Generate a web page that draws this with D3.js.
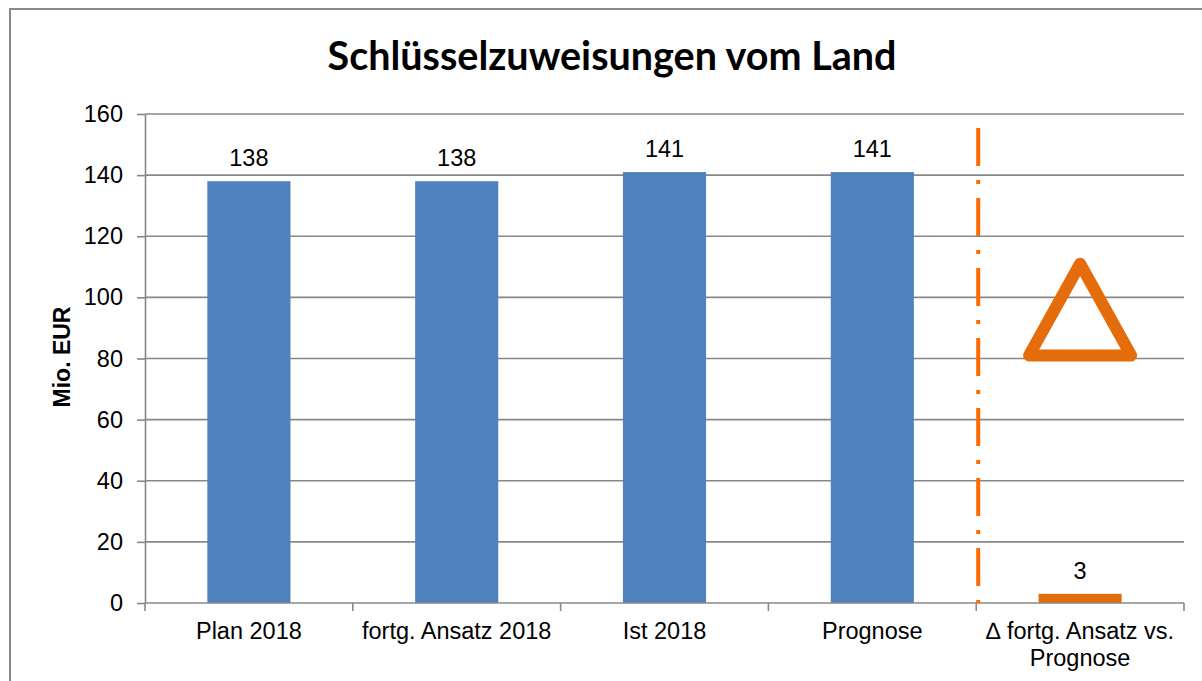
<!DOCTYPE html>
<html><head><meta charset="utf-8">
<script src="https://cdn.jsdelivr.net/npm/d3@7"></script>
<style>body{margin:0;background:#fff}svg{display:block}</style>
</head><body>
<svg id="c" width="1202" height="681"></svg>
<script>
const categories = ["Plan 2018", "fortg. Ansatz 2018", "Ist 2018", "Prognose", "\u2206 fortg. Ansatz vs. Prognose"];
const labelLines = [["Plan 2018"], ["fortg. Ansatz 2018"], ["Ist 2018"], ["Prognose"], ["\u2206 fortg. Ansatz vs.", "Prognose"]];
const values = [138, 138, 141, 141, 3];
const barColors = ["#4F81BD", "#4F81BD", "#4F81BD", "#4F81BD", "#E46C0A"];
const yTicks = [0, 20, 40, 60, 80, 100, 120, 140, 160];
const triangleValues = { apex: 111, base: 81 };

const svg = d3.select("#c");
const m = { left: 145, right: 1184, top: 114, bottom: 603 };
const FONT = "Liberation Sans, Arial, sans-serif";

// outer border
svg.append("rect").attr("x", 10).attr("y", 9).attr("width", 1210).attr("height", 700)
  .attr("fill", "#fff").attr("stroke", "#898989").attr("stroke-width", 2);

const x = d3.scaleBand().domain(categories).range([m.left, m.right]).paddingInner(0.6).paddingOuter(0.3);
const y = d3.scaleLinear().domain([0, 160]).range([m.bottom, m.top]);

// gridlines
svg.append("g").selectAll("line").data(yTicks.filter(d => d > 0)).join("line")
  .attr("x1", m.left).attr("x2", m.right).attr("y1", d => y(d)).attr("y2", d => y(d))
  .attr("stroke", "#888").attr("stroke-width", 1.6);

// y axis
const ya = svg.append("g").attr("transform", `translate(${m.left},0)`)
  .call(d3.axisLeft(y).tickValues(yTicks).tickSize(8).tickSizeOuter(0).tickPadding(14));
ya.select(".domain").attr("stroke", "#888").attr("stroke-width", 1.6);
ya.selectAll(".tick line").attr("stroke", "#888").attr("stroke-width", 1.6);
ya.selectAll(".tick text").attr("font-family", FONT).attr("font-size", 23.5).attr("fill", "#000");

// bars
svg.append("g").selectAll("rect").data(values).join("rect")
  .attr("x", (d, i) => x(categories[i])).attr("width", x.bandwidth())
  .attr("y", d => y(d)).attr("height", d => y(0) - y(d))
  .attr("fill", (d, i) => barColors[i]);

// x axis
const step = x.step();
const xa = svg.append("g").attr("transform", `translate(0,${m.bottom})`);
xa.append("line").attr("x1", m.left).attr("x2", m.right).attr("stroke", "#888").attr("stroke-width", 1.6);
const bounds = categories.map(c => x(c) - step * x.paddingInner() / 2);
bounds.push(m.right);
bounds[0] = m.left;
xa.selectAll("line.t").data(bounds).join("line").attr("class", "t")
  .attr("x1", d => d).attr("x2", d => d).attr("y1", 0).attr("y2", 8)
  .attr("stroke", "#888").attr("stroke-width", 1.6);
const xl = xa.selectAll("text").data(categories).join("text")
  .attr("x", d => x(d) + x.bandwidth() / 2).attr("y", 36)
  .attr("text-anchor", "middle").attr("font-family", FONT)
  .attr("font-size", 23.5).attr("fill", "#000");
xl.each(function(d, i) {
  labelLines[i].forEach((t, j) => d3.select(this).append("tspan")
    .attr("x", x(d) + x.bandwidth() / 2).attr("dy", j === 0 ? 0 : 26.5).text(t));
});

// data labels
svg.append("g").selectAll("text").data(values).join("text")
  .attr("x", (d, i) => x(categories[i]) + x.bandwidth() / 2)
  .attr("y", d => y(d) - 15)
  .attr("text-anchor", "middle").attr("font-family", FONT)
  .attr("font-size", 23.5).attr("fill", "#000").text(d => d);

// dash-dot separator
const sepX = bounds[4] + 2;
svg.append("line").attr("x1", sepX).attr("x2", sepX).attr("y1", 128).attr("y2", m.bottom)
  .attr("stroke", "#FF6A00").attr("stroke-width", 4).attr("stroke-dasharray", "38,14,4,14");

// triangle
const cx = x(categories[4]) + x.bandwidth() / 2;
const yA = y(triangleValues.apex), yB = y(triangleValues.base);
const hw = 51;
svg.append("path").attr("d", `M${cx},${yA} L${cx + hw},${yB} L${cx - hw},${yB} Z`)
  .attr("fill", "none").attr("stroke", "#E46C0A").attr("stroke-width", 12).attr("stroke-linejoin", "round");

// y axis title
svg.append("text").attr("transform", "translate(70,357) rotate(-90)")
  .attr("text-anchor", "middle").attr("font-family", FONT)
  .attr("font-weight", "bold").attr("font-size", 23).attr("fill", "#000").text("Mio. EUR");

// title
svg.append("text").attr("x", 612).attr("y", 70).attr("text-anchor", "middle")
  .attr("font-family", "Lato, 'Open Sans', sans-serif").attr("font-weight", "bold")
  .attr("font-size", 39.5).attr("fill", "#000").text("Schlüsselzuweisungen vom Land");
</script>
</body></html>
